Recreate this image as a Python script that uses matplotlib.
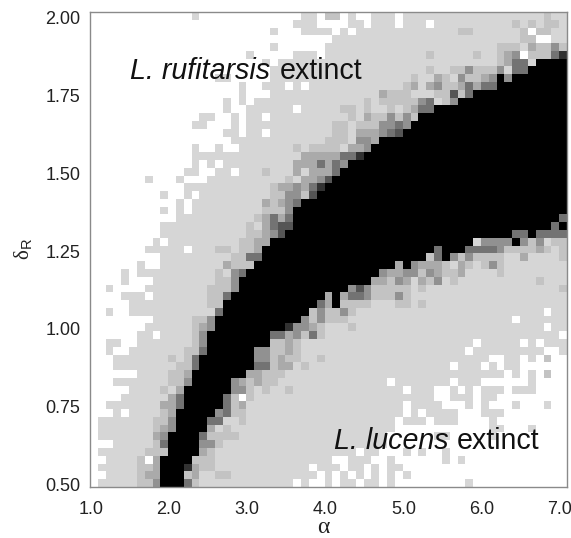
import numpy as np
import matplotlib
matplotlib.use("Agg")
import matplotlib.pyplot as plt
from matplotlib.transforms import ScaledTranslation

plt.rcParams["font.family"] = ["Liberation Sans", "DejaVu Sans"]
plt.rcParams["mathtext.fontset"] = "custom"
plt.rcParams["mathtext.rm"] = "Liberation Sans"

x_ticks = [1.0, 2.0, 3.0, 4.0, 5.0, 6.0, 7.0]
y_ticks = [0.50, 0.75, 1.00, 1.25, 1.50, 1.75, 2.00]

# shade per cell, top row (delta 2.00) first, alpha 1.0 -> 7.0
# . white, 1 light grey ... 7 dark grey, 9 black
rows = [
    ".......... ...1...... .......11. 22.1..111. 1111111111 1111111121 1",
    ".......... .......... ......111. ...11.111. 111.111111 1111212122 1",
    ".......... .......... ...1...111 1.1.111111 1111111221 111112.221 1",
    ".......... .......... .......... .111111111 1111111111 1111122..1 1",
    ".......... .......... ...1...... 1111111111 1111111111 1122213224 2",
    ".......... .......... 1.....111. 1111111111 1112111112 11234.2225 7",
    ".......... .......... ..1.111111 1111111111 1111111111 1123551999 9",
    ".......... .......... ...1111111 1111111111 1112112242 2241559999 9",
    ".......... ......11.. ...1111111 1111111111 1211321422 3494999999 9",
    ".......... .........1 ..111.1.11 1111111111 2313422353 5599999999 9",
    ".......... .........1 ...1111111 1111111322 2111226259 9999999999 9",
    ".......... .......1.1 .111111111 1111121222 2245124999 9999999999 9",
    ".......... .......1.. 111111.111 1122121121 2355999999 9999999999 9",
    ".......... ....11..1. 11.1111111 1112132242 4299999999 9999999999 9",
    ".......... ...11...1. 1111111111 1221222445 4999999999 9999999999 9",
    ".......... .......11. 11.1111111 1221333456 9999999999 9999999999 9",
    ".......... ........11 1111111111 2221443999 9999999999 9999999999 9",
    ".......... ...1..1..1 1111112122 2213349999 9999999999 9999999999 9",
    ".......... ...1111111 1111111333 3355799999 9999999999 9999999999 9",
    ".......... ...1.1.111 1111113335 3549999999 9999999999 9999999999 9",
    ".......... ..11..11.1 1121113133 3599999999 9999999999 9999999999 9",
    ".......1.. .1...11111 1111121334 6999999999 9999999999 9999999999 9",
    ".......... ..11111111 1112334357 9999999999 9999999999 9999999999 9",
    ".........1 ..1.111111 1112244269 9999999999 9999999999 9999999999 9",
    ".......... .1.1111111 1132345999 9999999999 9999999999 9999999999 9",
    ".........1 .1.1111111 1122249999 9999999999 9999999999 9999999999 9",
    ".......... .111111111 1235359999 9999999999 9999999999 9999999999 5",
    ".........1 1111111111 2135669999 9999999999 9999999999 9999999995 9",
    ".........1 1111111111 2234699999 9999999999 9999999999 9999559555 5",
    "........1. 1111111112 2339999999 9999999999 9999999991 4444942412 2",
    ".......111 11.1112212 2399999999 9999999999 9999599955 5542222321 2",
    ".........1 1111111122 5599999999 9999999999 9992594242 2221131111 2",
    "......1..1 1111111322 2999999999 9999999993 9433321321 2421111111 1",
    "....1.1111 1111112145 9999999999 9999999433 4424322311 1121111111 1",
    "....1...11 1111112249 9999999999 9999993324 3132412111 1111111211 1",
    "..1....111 1111122249 9999999999 9994642222 2121111111 1111111111 2",
    "....111.11 1111122599 9999999999 3935542224 2111111111 1111111111 1",
    ".....11111 1111122999 9999999995 3922221112 2121111111 1111111111 1",
    "..1..11111 1111115999 9999999924 2242111111 1111111111 11111111.1 1",
    "........11 1112249999 9999999424 2221111111 1111111111 1111.11111 1",
    ".......111 1112349999 9999974432 1112111111 1111111111 11111111.1 1",
    "......11.1 1112499999 9995534252 1111111111 1111111111 1111111111 .",
    "..11..1111 1112499999 9992232111 1111111111 111111111. 11111.1.11 1",
    "..1..11111 1122599999 9442232111 1111111111 11111111.1 11111111.. 1",
    "...1111111 2125999999 9442322112 1111111111 1111111111 1..11.1.2. .",
    "...1111111 1225999999 9552331211 1111111111 111111.111 .1.11..... .",
    "......1111 2239999999 3322211111 1111111111 1111111111 111.1.1.2. .",
    "...1111111 2249999943 2322111111 11111111.1 111111.111 ......1... .",
    ".....11112 1399999944 2121121111 1111111111 .111..1.1. 111.111... .",
    "....111111 359999952. 2111111111 1111111111 1111..111. 11........ .",
    "..11111113 3599999523 1111111111 1111111111 .1111...1. 1...1...1. .",
    "...1.11112 3999994522 1111111111 1111111111 .1.1111... 111....... .",
    ".111111122 4999955112 1111111111 111111111. 111.111... .1........ .",
    ".111111123 4999931211 1111111111 111111111. .......... .11...1... .",
    ".111111134 9999522221 1111111111 11111111.. ....11.... .1........ .",
    "...1111125 9999442111 1111111111 11111111.. .......... .......... .",
    ".111111222 9999321111 1111111111 1111.11... 1.1..1.... .......... .",
    "..11112.39 9992221111 1111111111 1..111..1. .....1.1.. .......... .",
    ".111112239 9973221111 11111111.1 11.11.1.11 .......... .......... .",
    "..11112339 9923112211 111111111. 1.1.1.1.1. 1......... .......... .",
    ".111112249 9952111111 111111.1.. 1.11.11.1. ........1. .......... .",
]

# grey value of each shade
shade_grey = {".": 255, "1": 214, "2": 195, "3": 170, "4": 145,
              "5": 115, "6": 85, "7": 50, "9": 0}

grid = np.array([[shade_grey[ch] for ch in r.replace(" ", "")] for r in rows])

fig = plt.figure(figsize=(5.71, 5.38), dpi=100)
ax = fig.add_axes([90 / 571, (538 - 486.7) / 538, 476.7 / 571, 474.4 / 538])

ax.imshow(grid, cmap="gray", vmin=0, vmax=255, aspect="auto",
          interpolation="nearest", extent=[0.95, 7.05, 0.4875, 2.0125])

ax.set_xticks(x_ticks)
ax.set_xticklabels([f"{v:.1f}" for v in x_ticks], fontsize=13, color="#222222")
ax.set_yticks(y_ticks)
ax.set_yticklabels([f"{v:.2f}" for v in y_ticks], fontsize=13, color="#222222")
ax.tick_params(axis="x", length=0, pad=10)
ax.tick_params(axis="y", length=0, pad=7)

# the labels sit a little off their cells in the original
x_shift = ScaledTranslation(-3 / 100, 0, fig.dpi_scale_trans)
for lab in ax.get_xticklabels():
    lab.set_transform(lab.get_transform() + x_shift)
y_shift = ScaledTranslation(0, -1.5 / 100, fig.dpi_scale_trans)
for lab in ax.get_yticklabels():
    lab.set_transform(lab.get_transform() + y_shift)

for s in ax.spines.values():
    s.set_color("#8a8a8a")
    s.set_linewidth(1.0)

ax.set_xlabel("α", family="Liberation Serif", fontsize=17, color="#222222", va="baseline")
ax.xaxis.set_label_coords(0.489, -0.0976)
ax.set_ylabel(r"δ$_{\mathrm{R}}$", family="Liberation Serif", fontsize=15,
              color="#222222", labelpad=7)

ax.text(1.46, 1.798, "L. rufitarsis", style="italic", fontsize=20.6, color="#111111",
        va="baseline", ha="left")
ax.text(3.38, 1.798, "extinct", fontsize=20.6, color="#111111", va="baseline", ha="left")
ax.text(4.07, 0.609, "L. lucens", style="italic", fontsize=20.6, color="#111111",
        va="baseline", ha="left")
ax.text(5.646, 0.609, "extinct", fontsize=20.6, color="#111111", va="baseline", ha="left")

fig.savefig("out.png", dpi=100)
